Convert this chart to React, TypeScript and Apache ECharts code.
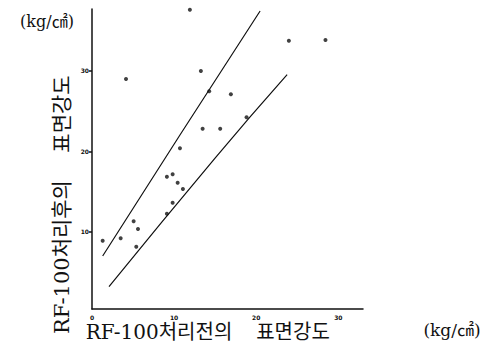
import React, { useEffect, useRef } from "react";
import * as echarts from "echarts";

const pointsX = [1.3, 3.49, 5.07, 5.6, 5.39, 9.12, 9.82, 10.43, 11.07, 9.82, 9.12, 10.71, 11.92, 13.26, 14.27, 16.91, 13.47, 15.61, 18.82, 23.97, 28.43, 4.14];
const pointsY = [8.92, 9.22, 11.33, 10.37, 8.17, 16.87, 17.17, 16.12, 15.34, 13.64, 12.27, 20.4, 37.6, 30.0, 27.48, 27.11, 22.83, 22.83, 24.25, 33.76, 33.85, 29.0];
const upperLineX = [1.3, 10.71, 20.47];
const upperLineY = [7.02, 22.05, 37.45];
const lowerLineX = [2.07, 14.96, 23.76];
const lowerLineY = [3.2, 19.15, 29.54];
const xTicks = [0, 10, 20, 30];
const yTicks = [10, 20, 30];

const xTitleA = "RF-100처리전의";
const xTitleB = "표면강도";
const yTitleA = "RF-100처리후의";
const yTitleB = "표면강도";
const unit = "(kg/㎠)";

export default function App() {
  const ref = useRef<HTMLDivElement>(null);
  useEffect(() => {
    if (!ref.current) return;
    const chart = echarts.init(ref.current, null, { renderer: "svg" });
    const font = "'DejaVu Serif', 'Liberation Serif', 'Noto Sans CJK KR', serif";
    const txt = (text: string, size: number) => ({
      text,
      fontSize: size,
      fontFamily: font,
      fill: "#111",
      align: "center",
      verticalAlign: "middle",
    });
    chart.setOption({
      animation: false,
      backgroundColor: "#ffffff",
      grid: { left: 92, right: 134, top: 9, bottom: 46 },
      xAxis: {
        type: "value",
        min: 0,
        max: 33,
        splitLine: { show: false },
        axisLine: { show: true, onZero: false, lineStyle: { color: "#111", width: 1.5 } },
        axisTick: { show: false },
        axisLabel: {
          customValues: xTicks,
          color: "#111",
          fontSize: 6,
          fontWeight: "bold",
          margin: 5,
          fontFamily: "DejaVu Sans",
        },
      },
      yAxis: {
        type: "value",
        min: 0.43,
        max: 37.7,
        splitLine: { show: false },
        axisLine: { show: true, onZero: false, lineStyle: { color: "#111", width: 1.5 } },
        axisTick: { show: true, customValues: yTicks, length: 3, lineStyle: { color: "#111", width: 1.5 } },
        axisLabel: {
          customValues: yTicks,
          color: "#111",
          fontSize: 6,
          fontWeight: "bold",
          margin: 3,
          fontFamily: "DejaVu Sans",
        },
      },
      series: [
        {
          type: "scatter",
          data: pointsX.map((x, i) => [x, pointsY[i]]),
          symbol: "circle",
          symbolSize: 4,
          itemStyle: { color: "#111" },
        },
        {
          type: "line",
          data: upperLineX.map((x, i) => [x, upperLineY[i]]),
          smooth: true,
          symbol: "none",
          lineStyle: { color: "#111", width: 1.2 },
        },
        {
          type: "line",
          data: lowerLineX.map((x, i) => [x, lowerLineY[i]]),
          smooth: true,
          symbol: "none",
          lineStyle: { color: "#111", width: 1.2 },
        },
      ],
      graphic: [
        { type: "text", x: 47, y: 21, style: txt(unit, 16) },
        { type: "text", x: 452, y: 330, style: txt(unit, 17) },
        { type: "text", x: 159, y: 332, style: txt(xTitleA, 20) },
        { type: "text", x: 293, y: 332, style: txt(xTitleB, 20) },
        { type: "text", x: 62, y: 257, rotation: Math.PI / 2, style: txt(yTitleA, 21) },
        { type: "text", x: 62, y: 114, rotation: Math.PI / 2, style: txt(yTitleB, 21) },
      ],
    });
    return () => chart.dispose();
  }, []);
  return (
    <div
      ref={ref}
      style={{ position: "fixed", left: 0, top: 0, width: 497, height: 355, background: "#fff" }}
    />
  );
}
